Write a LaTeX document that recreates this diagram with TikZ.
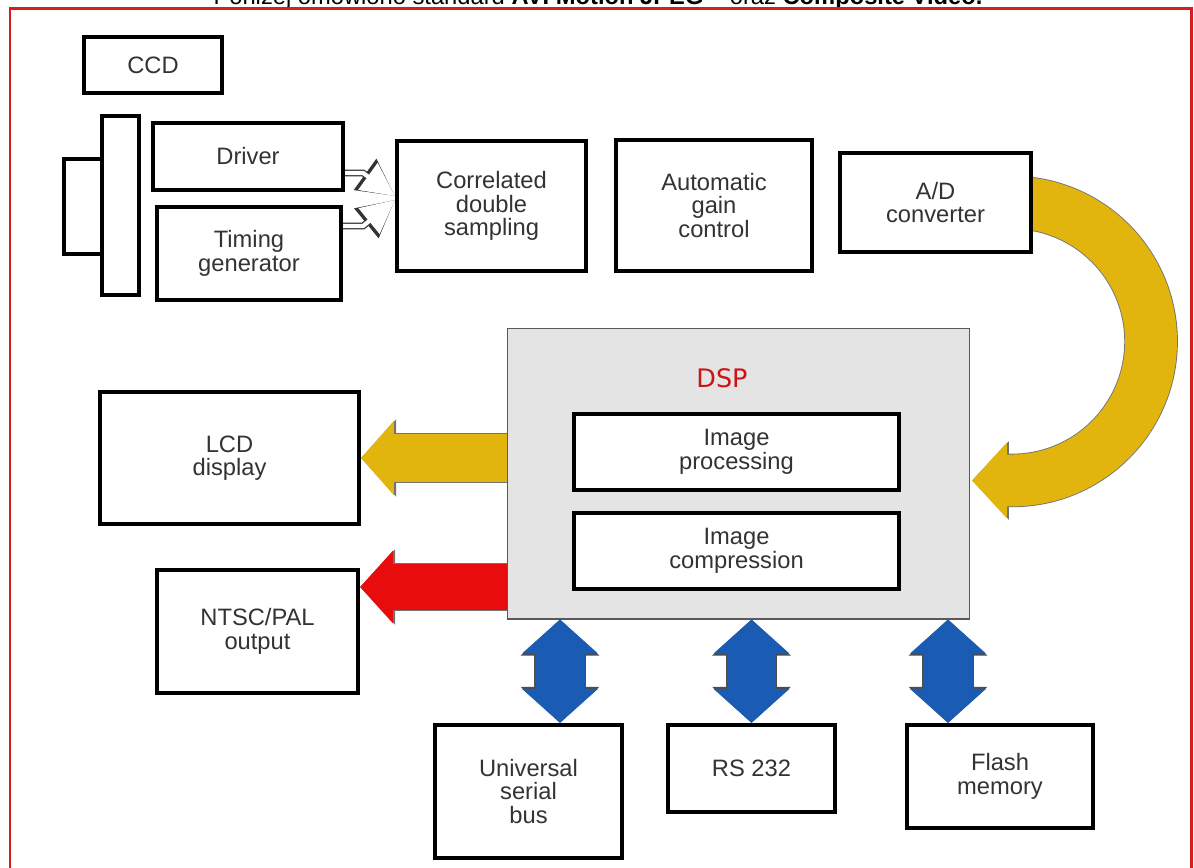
\documentclass[tikz,border=0pt]{standalone}
\usepackage{fontspec}
\setmainfont{Liberation Sans}
\newfontfamily\dspfont{DejaVu Sans}
\usetikzlibrary{positioning, arrows.meta, backgrounds, calc}
\definecolor{framered}{HTML}{D21F1F}
\definecolor{textgray}{HTML}{333333}
\definecolor{dspgray}{HTML}{E4E4E4}
\definecolor{dspred}{HTML}{CC1414}
\definecolor{adgold}{HTML}{E1B40E}
\definecolor{outred}{HTML}{E80C0C}
\definecolor{busblue}{HTML}{1A5CB4}
\tikzset{
	blockbox/.style={
			draw=black,
			line width=2.4pt,
			fill=white,
			text=textgray,
			align=center,
			font=\fontsize{13.5}{13.4}\selectfont,
			inner sep=0pt
		},
	connbox/.style={
			draw=black,
			line width=2.2pt,
			fill=white,
			inner sep=0pt
		},
	dspbox/.style={
			draw=black!65,
			line width=0.6pt,
			fill=dspgray,
			inner sep=0pt
		}
}
\tikzset{
	hollowedge/.style={draw=black!80, line width=3.8pt, -{Triangle[length=21pt, width=21pt]}},
	hollowfill/.style={draw=white, line width=2.4pt, -{Triangle[length=19pt, width=18.4pt]}},
	lcdedge/.style={draw=black!55, line width=28.8pt, -{Triangle[length=20pt, width=43pt]}},
	lcdfill/.style={draw=adgold, line width=27.8pt, -{Triangle[length=18.7pt, width=41.4pt]}},
	tvedge/.style={draw=black!55, line width=27.6pt, -{Triangle[length=20pt, width=42pt]}},
	tvfill/.style={draw=outred, line width=26.6pt, -{Triangle[length=18.7pt, width=40.3pt]}},
	loopedge/.style={draw=black!55, line width=30.5pt, -{Triangle[length=21pt, width=43.6pt]}},
	loopfill/.style={draw=adgold, line width=29.5pt, -{Triangle[length=19.8pt, width=42pt]}},
	busedge/.style={draw=black!70, line width=29.3pt, {Triangle[length=20.5pt, width=43.6pt]}-{Triangle[length=20.5pt, width=43.6pt]}},
	busfill/.style={draw=busblue, line width=28.3pt, {Triangle[length=19.3pt, width=42pt]}-{Triangle[length=19.3pt, width=42pt]}}
}

\begin{document}
\begin{tikzpicture}[x=0.02cm, y=-0.02cm]
\useasboundingbox (0,0) rectangle (1194,868);

% caption line, cut by the top edge
\begin{scope}
\clip (0,0) rectangle (1194,7.5);
\node[anchor=base, inner sep=0pt, font=\fontsize{13.5}{14}\selectfont] (caption) at (598,5)
  {Poniżej omówiono standard \textbf{AVI Motion JPEG} -- oraz \textbf{Composite Video.}};
\end{scope}

\draw[framered, line width=1.7pt] (10,880) -- (10,8.5) -- (1191,8.5) -- (1191,880);

% camera front end
\node[connbox, minimum width=0.76cm, minimum height=1.90cm] (plug) at (83,206.5) {};
\node[connbox, minimum width=0.74cm, minimum height=3.58cm] (sensor) at (120.5,205.5) {};
\node[blockbox, minimum width=2.76cm, minimum height=1.12cm] (ccd) at (153,65) {CCD};
\node[blockbox, minimum width=3.80cm, minimum height=1.34cm] (driver) at (248,156.5) {Driver};
\node[blockbox, minimum width=3.68cm, minimum height=1.86cm] (timing) at (249,253.5) {Timing\\generator};
\node[blockbox, minimum width=3.78cm, minimum height=2.60cm] (cds) at (491.5,206) {Correlated\\double\\sampling};
\node[blockbox, minimum width=3.92cm, minimum height=2.62cm] (agc) at (714,205.5) {Automatic\\gain\\control};
\node[blockbox, minimum width=3.82cm, minimum height=1.98cm] (adc) at (935.5,202.5) {A/D\\converter};

% DSP block
\node[dspbox, minimum width=9.26cm, minimum height=5.82cm] (dsp) at (738.5,473.5) {};
\node[font=\dspfont\fontsize{14.5}{15}\selectfont, text=dspred] (dsplabel) at (722,378) {DSP};
\node[blockbox, minimum width=6.50cm, minimum height=1.52cm] (improc) at (736.5,452) {Image\\processing};
\node[blockbox, minimum width=6.50cm, minimum height=1.52cm] (imcomp) at (736.5,551) {Image\\compression};

% outputs and ports
\node[blockbox, minimum width=5.18cm, minimum height=2.64cm] (lcd) at (229.5,458) {LCD\\display};
\node[blockbox, minimum width=4.02cm, minimum height=2.46cm] (ntsc) at (257.5,631.5) {NTSC/PAL\\output};
\node[blockbox, minimum width=3.74cm, minimum height=2.66cm] (usb) at (528.5,791.5) {Universal\\serial\\bus};
\node[blockbox, minimum width=3.34cm, minimum height=1.74cm] (rs) at (751.5,768.5) {RS 232};
\node[blockbox, minimum width=3.72cm, minimum height=2.06cm] (flash) at (1000,776.5) {Flash\\memory};

\coordinate (usbport) at ([xshift=0.63cm]usb.north);
\coordinate (flashport) at ([xshift=-1.04cm]flash.north);
\coordinate (adcport) at ([xshift=-0.42cm]adc.east);

\begin{scope}[on background layer]
% hollow arrows into CDS
\draw[hollowedge] (driver.east |- 0,173) -- ++(18,0) -- (cds.west |- 0,196);
\draw[hollowedge] (timing.east |- 0,226) -- ++(20,0) -- (cds.west |- 0,200);
\draw[hollowfill] (driver.east |- 0,173) -- ++(18,0) -- (cds.west |- 0,196);
\draw[hollowfill] (timing.east |- 0,226) -- ++(20,0) -- (cds.west |- 0,200);

% A/D output looping back into the DSP
\draw[loopedge] (adcport) arc[start angle=90, end angle=-90, radius=2.78cm] -- ++(-40,0);
\draw[loopfill] (adcport) arc[start angle=90, end angle=-90, radius=2.78cm] -- ++(-40,0);

% DSP outputs
\draw[lcdedge] (dsp.west |- lcd.east) -- (lcd.east);
\draw[lcdfill] (dsp.west |- lcd.east) -- (lcd.east);
\draw[tvedge] (dsp.west |- 0,587) -- (ntsc.east |- 0,587);
\draw[tvfill] (dsp.west |- 0,587) -- (ntsc.east |- 0,587);

% bus links
\draw[busedge] (usbport) -- (usbport |- dsp.south);
\draw[busfill] (usbport) -- (usbport |- dsp.south);
\draw[busedge] (rs.north) -- (rs.north |- dsp.south);
\draw[busfill] (rs.north) -- (rs.north |- dsp.south);
\draw[busedge] (flashport) -- (flashport |- dsp.south);
\draw[busfill] (flashport) -- (flashport |- dsp.south);
\end{scope}
\end{tikzpicture}
\end{document}
